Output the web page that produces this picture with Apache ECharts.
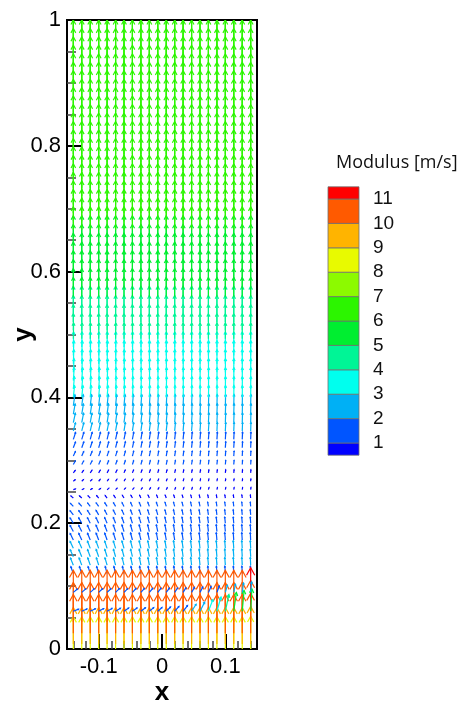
<!DOCTYPE html>
<html><head><meta charset="utf-8">
<script src="https://cdn.jsdelivr.net/npm/echarts@6/dist/echarts.min.js"></script>
<style>html,body{margin:0;padding:0;background:#fff}#c{width:463px;height:701px}</style>
</head><body><div id="c"></div>
<script>
// ---- grid columns (x) of the vector field ----
const xCols = [-0.14, -0.1267, -0.1133, -0.1, -0.0867, -0.0733, -0.06, -0.0467, -0.0333, -0.02, -0.0067,
               0.0067, 0.02, 0.0333, 0.0467, 0.06, 0.0733, 0.0867, 0.1, 0.1133, 0.1267, 0.14];
// ---- main rows (y), speed [m/s] and tilt at left edge [deg, + = leaning right] ----
const rowY = [0.12, 0.1333, 0.1467, 0.16, 0.1733, 0.1867, 0.2, 0.2133, 0.2267, 0.24,
              0.2533, 0.2667, 0.28, 0.2933, 0.3067, 0.32, 0.3333, 0.3467, 0.36, 0.3733,
              0.3867, 0.4, 0.4133, 0.4267, 0.44, 0.4533, 0.4667, 0.48, 0.4933, 0.5067,
              0.52, 0.5333, 0.5467, 0.56, 0.5733, 0.5867, 0.6, 0.6133, 0.6267, 0.64,
              0.6533, 0.6667, 0.68, 0.6933, 0.7067, 0.72, 0.7333, 0.7467, 0.76, 0.7733,
              0.7867, 0.8, 0.8133, 0.8267, 0.84, 0.8533, 0.8667, 0.88, 0.8933, 0.9067,
              0.92, 0.9333, 0.9467, 0.96, 0.9733, 0.9867];
const rowSpeed = [1.9, 2.0, 2.0, 2.0, 1.9, 1.8, 1.6, 1.35, 1.1, 0.8,
                  0.55, 0.6, 0.8, 1.05, 1.3, 1.6, 1.9, 2.2, 2.5, 2.75,
                  2.95, 3.1, 3.25, 3.4, 3.55, 3.7, 3.85, 3.98, 4.15, 4.35,
                  4.55, 4.75, 4.95, 5.1, 5.25, 5.4, 5.5, 5.6, 5.7, 5.8,
                  5.9, 6.0, 6.1, 6.15, 6.2, 6.25, 6.3, 6.3, 6.35, 6.35,
                  6.4, 6.4, 6.45, 6.45, 6.5, 6.5, 6.5, 6.55, 6.55, 6.55,
                  6.6, 6.6, 6.6, 6.6, 6.6, 6.6];
const rowTiltLeft = [-20, -22, -24, -25, -26, -28, -32, -38, -44, -50,
                     70, 50, 38, 30, 25, 21, 18, 15, 12, 10,
                     8, 6, 5, 4, 3, 2, 2, 1, 1, 0,
                     0, 0, 0, 0, 0, 0, 0, 0, 0, 0,
                     0, 0, 0, 0, 0, 0, 0, 0, 0, 0,
                     0, 0, 0, 0, 0, 0, 0, 0, 0, 0,
                     0, 0, 0, 0, 0, 0];
const colTiltFactor = [1.0, 0.93, 0.86, 0.8, 0.74, 0.68, 0.62, 0.57, 0.52, 0.47, 0.43,
                       0.39, 0.35, 0.32, 0.29, 0.26, 0.23, 0.2, 0.18, 0.16, 0.14, 0.12];
// ---- bottom jet band ----
const bandY = [0.0, 0.008, 0.025, 0.043, 0.061];
const bandSpeed = [8.5, 9.6, 10.2, 10.4, 10.6];
const bandSpeedRightCol = [8.6, 9.9, 10.5, 10.9, 11.3];
const bandBlueY = [0.06, 0.09];
const bandBlueSpeed = [
  [1.5, 1.5, 1.5, 1.5, 1.5, 1.5, 1.5, 1.5, 1.5, 1.5, 1.5, 1.6, 1.7, 1.9, 2.2, 2.7, 3.3, 3.9, 4.5, 5.0, 5.5, 5.9],
  [1.4, 1.4, 1.4, 1.4, 1.4, 1.4, 1.4, 1.4, 1.4, 1.4, 1.4, 1.4, 1.4, 1.4, 1.5, 1.6, 1.7, 1.8, 2.0, 2.2, 2.5, 2.8]
];
const bandBlueTilt = [
  [68, 66, 64, 62, 60, 58, 56, 54, 52, 50, 48, 45, 42, 38, 33, 27, 21, 16, 12, 8, 5, 3],
  [50, 49, 48, 47, 46, 45, 44, 43, 42, 40, 38, 36, 34, 32, 30, 27, 24, 20, 16, 12, 8, 5]
];
// ---- contour levels / legend ----
const levels = [1, 2, 3, 4, 5, 6, 7, 8, 9, 10, 11];
const levelColors = ['#0000ff', '#0055ff', '#00b0f5', '#00ffee', '#00f596', '#00ee30',
                     '#2cf500', '#8cfa00', '#e8fa00', '#ffb400', '#ff5a00', '#ff0000'];
// ---- axis ticks ----
const xTicks = [-0.1, 0, 0.1];
const xMinorTicks = [-0.14, -0.12, -0.08, -0.06, -0.04, -0.02, 0.02, 0.04, 0.06, 0.08, 0.12, 0.14];

const ARROW_PX_PER_MS = 3.8;

const arrows = [];
rowY.forEach((y, j) => xCols.forEach((x, i) => arrows.push([x, y, rowSpeed[j], rowTiltLeft[j] * colTiltFactor[i]])));
bandY.forEach((y, j) => xCols.forEach((x, i) => arrows.push([x, y, i === xCols.length - 1 ? bandSpeedRightCol[j] : bandSpeed[j], 0])));
bandBlueY.forEach((y, j) => xCols.forEach((x, i) => arrows.push([x, y, bandBlueSpeed[j][i], bandBlueTilt[j][i]])));

const pieces = [];
for (let k = 0; k <= levels.length; k++) {
  const p = { color: levelColors[k] };
  if (k > 0) p.gte = levels[k - 1];
  if (k < levels.length) p.lt = levels[k];
  pieces.push(p);
}
const legendBlocks = [];
for (let k = 0; k <= levels.length; k++) {
  const lo = k === 0 ? levels[0] - 0.5 : levels[k - 1];
  const hi = k === levels.length ? levels[k - 1] + 0.5 : levels[k];
  legendBlocks.push([lo, hi, k]);
}

function renderArrow(params, api) {
  const p = api.coord([api.value(0), api.value(1)]);
  const L = api.value(2) * ARROW_PX_PER_MS;
  const a = api.value(3) * Math.PI / 180;
  const dx = Math.sin(a) * L, dy = -Math.cos(a) * L;
  const q = [p[0] + dx, p[1] + dy];
  const ang = Math.atan2(dy, dx);
  const h = 0.2 * L, w = 0.5;
  const h1 = [q[0] - h * Math.cos(ang - w), q[1] - h * Math.sin(ang - w)];
  const h2 = [q[0] - h * Math.cos(ang + w), q[1] - h * Math.sin(ang + w)];
  const color = api.visual('color');
  return {
    type: 'group',
    children: [
      { type: 'line', shape: { x1: p[0], y1: p[1], x2: q[0], y2: q[1] }, style: { stroke: color, lineWidth: 1.2 } },
      { type: 'polyline', shape: { points: [h1, q, h2] }, style: { stroke: color, lineWidth: 1.2, fill: null } }
    ]
  };
}
function renderBlock(params, api) {
  const p1 = api.coord([0, api.value(1)]);
  const p2 = api.coord([1, api.value(0)]);
  return {
    type: 'rect',
    shape: { x: p1[0], y: p1[1], width: p2[0] - p1[0], height: p2[1] - p1[1] },
    style: { fill: levelColors[api.value(2)], stroke: '#707070', lineWidth: 0.8 }
  };
}

const chart = echarts.init(document.getElementById('c'), null, { renderer: 'canvas' });
chart.setOption({
  animation: false,
  backgroundColor: '#fff',
  textStyle: { fontFamily: 'Liberation Sans', color: '#000' },
  title: {
    text: 'Modulus [m/s]', left: 331, top: 149,
    textStyle: { fontFamily: 'Open Sans', fontSize: 18, fontWeight: 'normal', color: '#111' }
  },
  grid: [
    { left: 67, top: 20, width: 190, height: 629, show: true, borderColor: '#000', borderWidth: 2,
      backgroundColor: 'transparent', containLabel: false, outerBoundsMode: 'none' },
    { left: 328, top: 174.6, width: 31, height: 292.8, containLabel: false, outerBoundsMode: 'none' }
  ],
  xAxis: [
    {
      gridIndex: 0, type: 'value', min: -0.15, max: 0.15,
      name: 'x', nameLocation: 'middle', nameGap: 31, nameMoveOverlap: false,
      nameTextStyle: { fontSize: 26, fontWeight: 'bold', color: '#000', fontFamily: 'Liberation Sans' },
      axisLine: { show: true, onZero: false, lineStyle: { color: '#000', width: 2 } },
      axisTick: { show: true, inside: true, length: 15, customValues: xTicks, lineStyle: { color: '#000', width: 2 } },
      axisLabel: { customValues: xTicks, fontSize: 22, color: '#000', margin: 7 },
      splitLine: { show: false }
    },
    {
      gridIndex: 0, type: 'value', min: -0.15, max: 0.15, position: 'bottom',
      axisLine: { show: false, onZero: false },
      axisTick: { show: true, inside: true, length: 8, customValues: xMinorTicks, lineStyle: { color: '#444', width: 1.5 } },
      axisLabel: { show: false },
      splitLine: { show: false }
    },
    { gridIndex: 1, type: 'value', min: 0, max: 1, show: false }
  ],
  yAxis: [
    {
      gridIndex: 0, type: 'value', min: 0, max: 1, interval: 0.2,
      name: 'y', nameLocation: 'middle', nameGap: 30, nameRotate: 90, nameMoveOverlap: false,
      nameTextStyle: { fontSize: 26, fontWeight: 'bold', color: '#000', fontFamily: 'Liberation Sans' },
      axisLine: { show: true, onZero: false, lineStyle: { color: '#000', width: 2 } },
      axisTick: { show: true, inside: true, length: 15, lineStyle: { color: '#000', width: 2 } },
      minorTick: { show: true, splitNumber: 4, length: 9, lineStyle: { color: '#444', width: 1.5 } },
      axisLabel: { fontSize: 22, color: '#000', margin: 6 },
      splitLine: { show: false }, minorSplitLine: { show: false }
    },
    {
      gridIndex: 1, type: 'value', min: 0, max: 12, interval: 1, position: 'right',
      axisLine: { show: false }, axisTick: { show: false }, splitLine: { show: false },
      axisLabel: {
        fontSize: 19, color: '#111', margin: 14, padding: [6, 0, 0, 0],
        formatter: v => (v >= levels[0] && v <= levels[levels.length - 1]) ? String(v) : ''
      }
    }
  ],
  visualMap: {
    type: 'piecewise', show: false, seriesIndex: 0, dimension: 2, pieces: pieces
  },
  series: [
    { type: 'custom', xAxisIndex: 0, yAxisIndex: 0, clip: true, renderItem: renderArrow, data: arrows, z: 2 },
    { type: 'custom', xAxisIndex: 2, yAxisIndex: 1, renderItem: renderBlock, data: legendBlocks, silent: true }
  ]
});
</script></body></html>
